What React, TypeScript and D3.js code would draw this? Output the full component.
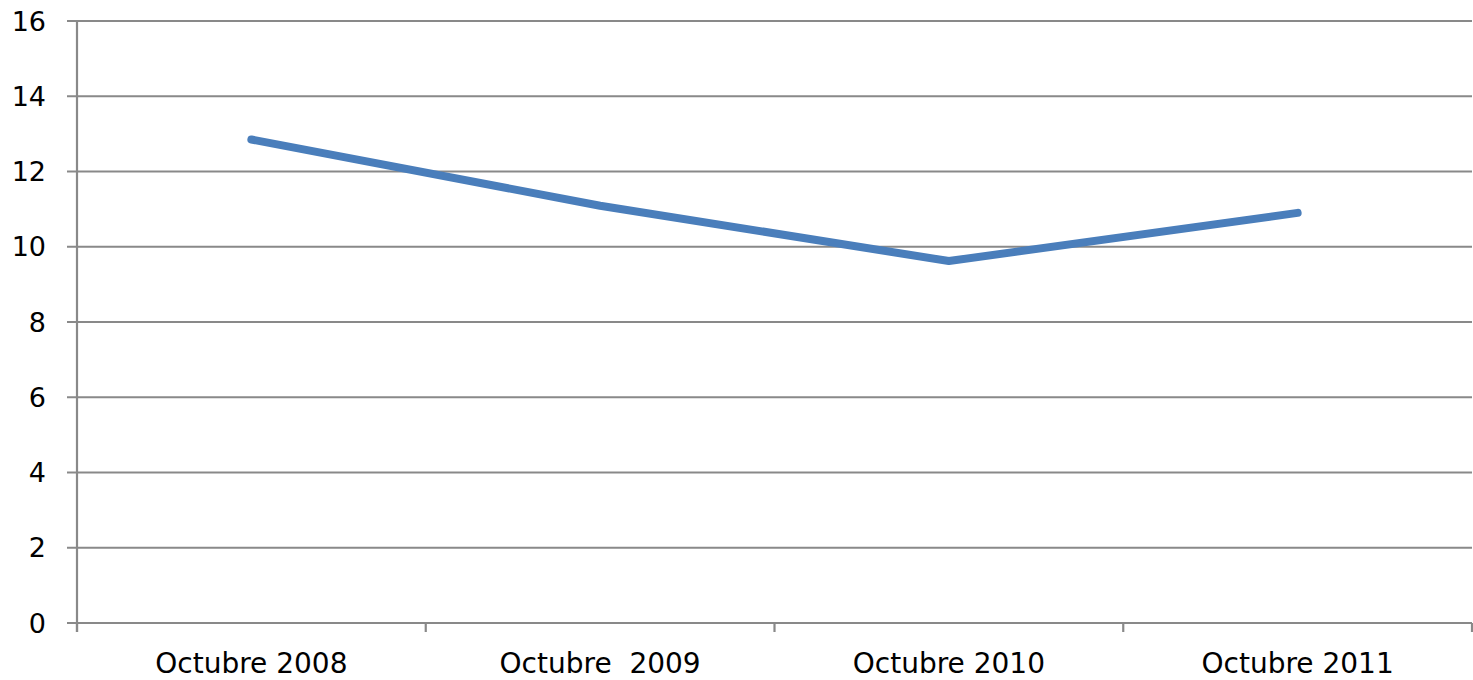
import React from "react";
import * as d3 from "d3";

const categories = ["Octubre 2008", "Octubre  2009", "Octubre 2010", "Octubre 2011"];
const values = [12.85, 11.09, 9.62, 10.9];
const yTicks = [0, 2, 4, 6, 8, 10, 12, 14, 16];

export default function App() {
  const W = 1473, H = 680;
  const left = 77, right = 1472, top = 21, bottom = 623;
  const x = d3.scaleBand<string>().domain(categories).range([left, right]).padding(0);
  const y = d3.scaleLinear().domain([0, 16]).range([bottom, top]);
  const line = d3.line<number>()
    .x((_, i) => (x(categories[i]) as number) + x.bandwidth() / 2)
    .y((d) => y(d));
  const grid = "#898989";
  const font = "DejaVu Sans";
  const boundaries = categories.map((c) => x(c) as number).concat([right]);
  return (
    <svg width={W} height={H} style={{ position: "absolute", left: 0, top: 0 }}>
      <rect x={0} y={0} width={W} height={H} fill="#fff" />
      {yTicks.map((t) => (
        <g key={t}>
          <line x1={67} x2={right} y1={y(t)} y2={y(t)} stroke={grid} strokeWidth={2.2} />
          <text x={46} y={y(t)} dy="0.36em" textAnchor="end" fontFamily={font} fontSize={27} fill="#000">
            {t}
          </text>
        </g>
      ))}
      <line x1={left} x2={left} y1={top - 1} y2={bottom + 9} stroke={grid} strokeWidth={2.2} />
      {boundaries.map((b, i) => (
        <line key={i} x1={b} x2={b} y1={bottom} y2={bottom + 9} stroke={grid} strokeWidth={2.2} />
      ))}
      {categories.map((c) => (
        <text key={c} x={(x(c) as number) + x.bandwidth() / 2} y={673} textAnchor="middle" fontFamily={font} fontSize={28} fill="#000" style={{ whiteSpace: "pre" }} xmlSpace="preserve">
          {c}
        </text>
      ))}
      <path d={line(values) as string} fill="none" stroke="#4a7ebb" strokeWidth={8} strokeLinecap="round" strokeLinejoin="round" />
    </svg>
  );
}
